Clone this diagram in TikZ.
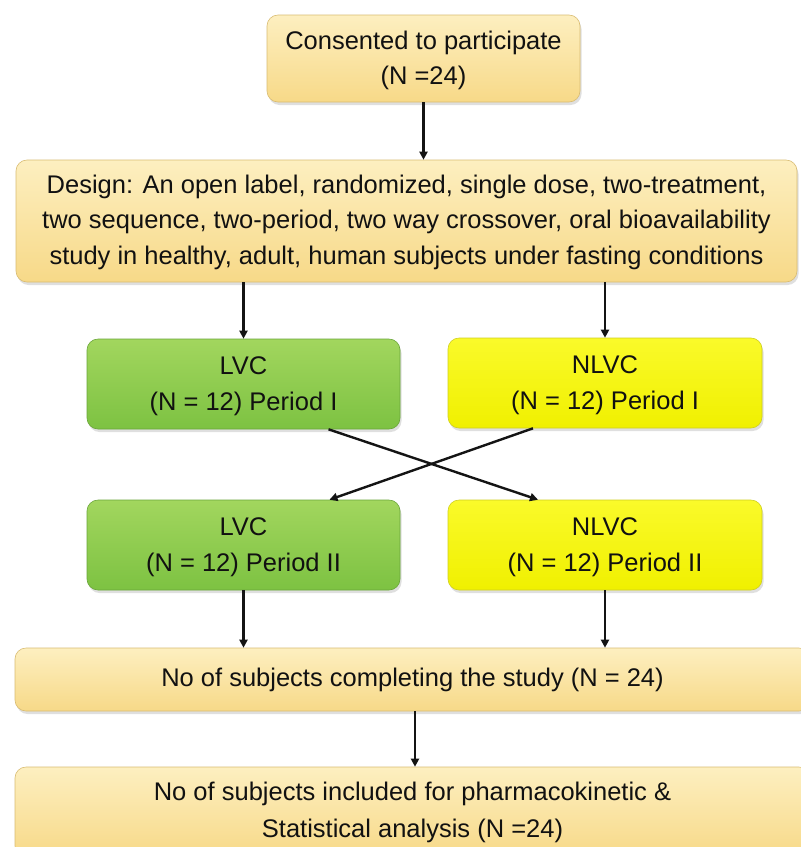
\documentclass[tikz,border=0pt]{standalone}
\usepackage{fontspec}
\setmainfont{Liberation Sans}
\usetikzlibrary{calc,shadows,arrows.meta}
\definecolor{beigetop}{HTML}{FDEFC0}
\definecolor{beigebot}{HTML}{F7D988}
\definecolor{beigeedge}{HTML}{D9BC72}
\definecolor{greentop}{HTML}{A2D65E}
\definecolor{greenbot}{HTML}{7DC242}
\definecolor{greenedge}{HTML}{6AA63A}
\definecolor{yeltop}{HTML}{FAFA2A}
\definecolor{yelbot}{HTML}{F0F000}
\definecolor{yeledge}{HTML}{CFCF20}
\definecolor{txt}{HTML}{111111}
\tikzset{
  box/.style={rectangle, rounded corners=11pt, align=center, inner sep=0pt,
    text=txt, font=\fontsize{25.5}{35.5}\selectfont, line width=0.6pt,
    drop shadow={opacity=0.25, shadow xshift=1.5pt, shadow yshift=-3pt}},
  beige/.style={box, draw=beigeedge, top color=beigetop, bottom color=beigebot},
  greenbox/.style={box, draw=greenedge, top color=greentop, bottom color=greenbot},
  yelbox/.style={box, draw=yeledge, top color=yeltop, bottom color=yelbot},
  arr/.style={-{Triangle[length=8pt,width=8pt]}, line width=2.4pt, black!92}
}
\begin{document}
\begin{tikzpicture}[x=1pt,y=-1pt]
\useasboundingbox[fill=white] (0,0) rectangle (801,847);
\node[beige, minimum width=313pt, minimum height=87pt] (consent) at (423.5,58.5)
  {\rule{0pt}{22pt}Consented to participate\\(N =24)};
\node[beige, minimum width=781pt, minimum height=122pt] (design) at (406.5,221)
  {\rule{0pt}{21pt}Design: An open label, randomized, single dose, two-treatment,\\
   two sequence, two-period, two way crossover, oral bioavailability\\
   study in healthy, adult, human subjects under fasting conditions};
\node[greenbox, minimum width=313pt, minimum height=90pt] (lvc1) at (243.5,384)
  {\rule{0pt}{22pt}LVC\\(N = 12) Period I};
\node[yelbox, minimum width=314pt, minimum height=90pt] (nlvc1) at (605,383)
  {\rule{0pt}{22pt}NLVC\\(N = 12) Period I};
\node[greenbox, minimum width=313pt, minimum height=90pt] (lvc2) at (243.5,545)
  {\rule{0pt}{22pt}LVC\\(N = 12) Period II};
\node[yelbox, minimum width=314pt, minimum height=90pt] (nlvc2) at (605,545)
  {\rule{0pt}{22pt}NLVC\\(N = 12) Period II};
\node[beige, minimum width=795pt, minimum height=63pt] (complete) at (412.5,679.5)
  {No of subjects completing the study (N = 24)};
\node[beige, minimum width=795pt, minimum height=90pt, font=\fontsize{25.5}{37}\selectfont] (final) at (412.5,812)
  {No of subjects included for pharmacokinetic \&\\Statistical analysis (N =24)};
\draw[arr] (consent.south) -- (consent.south |- design.north);
\draw[arr] (design.south -| lvc1) -- (lvc1.north);
\draw[arr] (design.south -| nlvc1) -- (nlvc1.north);
\draw[arr] ($(lvc1.south)+(85,0)$) -- ($(nlvc2.north)+(-67,0)$);
\draw[arr] ($(nlvc1.south)+(-72,0)$) -- ($(lvc2.north)+(86,0)$);
\draw[arr] (lvc2.south) -- (lvc2.south |- complete.north);
\draw[arr] (nlvc2.south) -- (nlvc2.south |- complete.north);
\draw[arr] ($(complete.south)+(2.5,0)$) -- ($(complete.south |- final.north)+(2.5,0)$);
\end{tikzpicture}
\end{document}
